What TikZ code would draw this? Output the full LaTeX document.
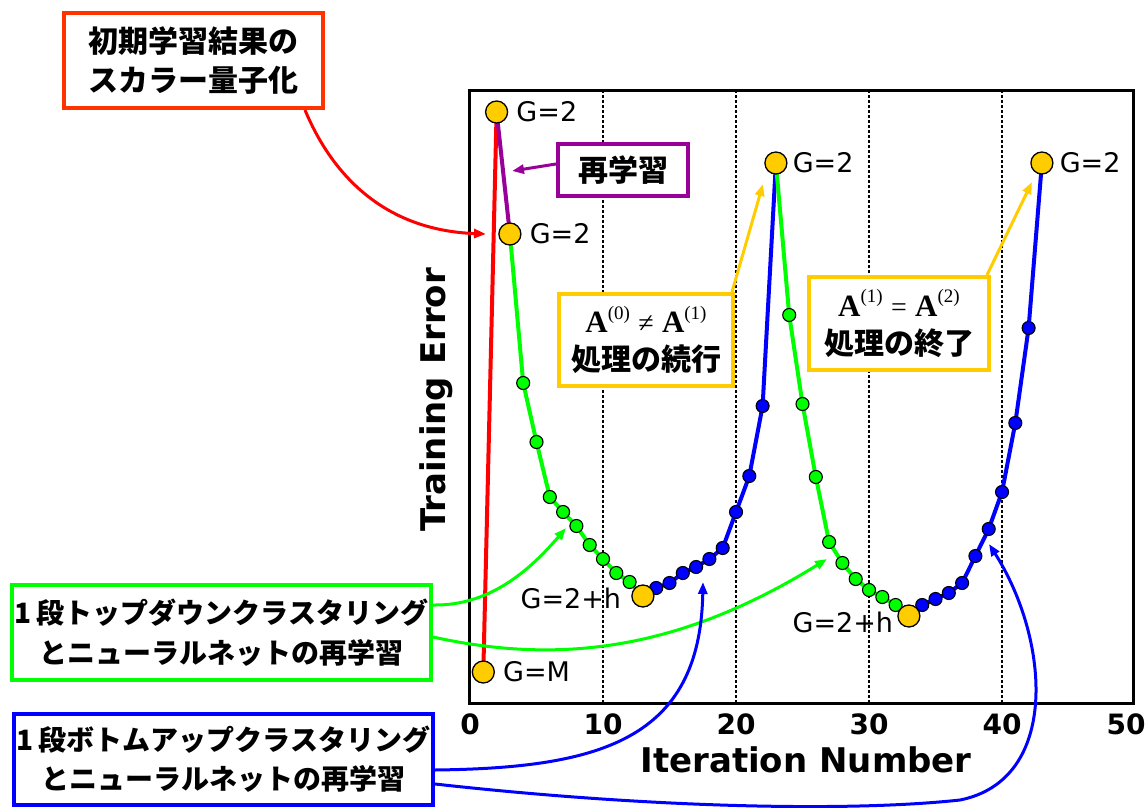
\documentclass[tikz,border=0pt]{standalone}
\usepackage{fontspec}
\setmainfont{DejaVu Sans}
\newfontfamily\jp{Noto Sans CJK JP}
\newfontfamily\tms{Liberation Serif}
\usetikzlibrary{arrows.meta}
\definecolor{cred}{RGB}{255,0,0}
\definecolor{corange}{RGB}{255,51,0}
\definecolor{cgreen}{RGB}{0,255,0}
\definecolor{cblue}{RGB}{0,0,255}
\definecolor{cpurple}{RGB}{153,0,153}
\definecolor{cyellow}{RGB}{255,204,0}
\newcommand{\matA}[1]{{\tms\bfseries\fontsize{31}{32}\selectfont A}\raisebox{0.45em}{\tms\mdseries\fontsize{19}{20}\selectfont(#1)}}
\newcommand{\relsym}[1]{\;{\tms\mdseries\fontsize{28}{30}\selectfont #1}\;}
\tikzset{
  ln/.style={line width=4pt, line join=round},
  smalldot/.style={circle, draw=black, line width=1.1pt, minimum size=13pt, inner sep=0pt},
  ydot/.style={circle, draw=black, line width=1.3pt, fill=cyellow, minimum size=22pt, inner sep=0pt},
  lbl/.style={font=\fontsize{27}{30}\selectfont, inner sep=0pt},
  tick/.style={font=\bfseries\fontsize{28}{32}\selectfont, inner sep=0pt},
  jbox/.style={draw, line width=4pt, fill=white, inner sep=0pt, align=center, font=\jp\bfseries\fontsize{30}{38}\selectfont},
  arr/.style={line width=3pt, -{Triangle[length=12pt,width=9pt]}},
  vgrid/.style={line width=1.3pt, dash pattern=on 3pt off 2pt}
}
\begin{document}
\begin{tikzpicture}[x=1pt,y=-1pt]
\useasboundingbox (0,0) rectangle (1148,808);
% grid and frame
\foreach \t in {10,20,30,40} \draw[vgrid] ({470+13.3*\t},90) -- ({470+13.3*\t},703);
\draw[line width=3pt] (469,90) rectangle (1133,703);
\foreach \t in {0,10,20,30,40} \node[tick] (tk\t) at ({470+13.3*\t},724) {\t};
\node[tick] (tk50) at (1126,724) {50};
\node[font=\bfseries\fontsize{34}{36}\selectfont, inner sep=0pt] (xl) at (806,760) {Iteration Number};
\node[font=\bfseries\fontsize{34}{36}\selectfont, inner sep=0pt, rotate=90] (yl) at (436,400) {Training Error};
% data
\def\pts{1/672, 2/112, 3/234, 4/383, 5/442, 6/497, 7/512, 8/526, 9/545, 10/559, 11/573, 12/582, 13/596, 14/588, 15/583, 16/573, 17/567, 18/559, 19/548, 20/512, 21/476, 22/406, 23/163, 24/315, 25/404, 26/477, 27/542, 28/563, 29/579, 30/590, 31/597, 32/605, 33/616, 34/605, 35/599, 36/593, 37/583, 38/556, 39/529, 40/492, 41/423, 42/328, 43/163}
\foreach \t/\y in \pts \coordinate (c\t) at ({470+13.3*\t},\y);
\draw[ln,cred] (c1) -- (c2);
\draw[ln,cpurple] (c2) -- (c3);
\draw[ln,cgreen] (c3) \foreach \i in {4,...,13}{ -- (c\i)};
\draw[ln,cblue] (c13) \foreach \i in {14,...,23}{ -- (c\i)};
\draw[ln,cgreen] (c23) \foreach \i in {24,...,33}{ -- (c\i)};
\draw[ln,cblue] (c33) \foreach \i in {34,...,43}{ -- (c\i)};
\foreach \t in {4,...,12,24,25,...,32} \node[smalldot, fill=cgreen] (p\t) at (c\t) {};
\foreach \t in {14,...,22,34,35,...,42} \node[smalldot, fill=cblue] (p\t) at (c\t) {};
\foreach \t in {1,2,3,13,23,33,43} \node[ydot] (p\t) at (c\t) {};
% point labels
\node[lbl, anchor=west] (l2) at ([xshift=8pt]p2.east) {G=2};
\node[lbl, anchor=west] (l3) at ([xshift=8pt]p3.east) {G=2};
\node[lbl, anchor=west] (l23) at ([xshift=5pt]p23.east) {G=2};
\node[lbl, anchor=west] (l43) at ([xshift=6pt]p43.east) {G=2};
\node[lbl, anchor=west] (l1) at ([xshift=8pt]p1.east) {G=M};
\node[lbl, anchor=east] (l13) at ([xshift=-10pt,yshift=-2pt]p13.west) {G=2+h};
\node[lbl, anchor=east] (l33) at ([xshift=-4pt,yshift=-6pt]p33.west) {G=2+h};
% callout boxes
\node[jbox, draw=corange, minimum width=259pt, minimum height=95pt, font=\jp\bfseries\fontsize{30}{39}\selectfont] (rbox) at (193.5,60.5) {初期学習結果の\\スカラー量子化};
\node[jbox, draw=cpurple, minimum width=130pt, minimum height=52pt] (pbox) at (623,170) {再学習};
\node[jbox, draw=cyellow, minimum width=174pt, minimum height=92pt] (y1box) at (646,340) {\matA{0}\relsym{≠}\matA{1}\\処理の続行};
\node[jbox, draw=cyellow, minimum width=180pt, minimum height=93pt] (y2box) at (899,323.5) {\matA{1}\relsym{=}\matA{2}\\処理の終了};
\node[jbox, draw=cgreen, minimum width=419pt, minimum height=95pt, font=\jp\bfseries\fontsize{28}{40}\selectfont] (gbox) at (221.5,632.5) {1\,段トップダウンクラスタリング\\とニューラルネットの再学習};
\node[jbox, draw=cblue, minimum width=419pt, minimum height=91pt, font=\jp\bfseries\fontsize{28}{39}\selectfont] (bbox) at (223.5,759.5) {1\,段ボトムアップクラスタリング\\とニューラルネットの再学習};
% arrow targets
\coordinate (rtip) at (486,234);
\coordinate (ptip) at (512,171);
\coordinate (y1tip) at (763,184);
\coordinate (y2tip) at (1032,182);
\coordinate (g1tip) at (566,528);
\coordinate (g2tip) at (827,559);
\coordinate (b1tip) at (703,582);
\coordinate (b2tip) at (989,544);
% connectors
\draw[arr, cred] ([xshift=-20pt]rbox.south east) .. controls (330,170) and (380,230) .. (rtip);
\draw[arr, cpurple] ([yshift=6pt]pbox.west) -- (ptip);
\draw[arr, cyellow] ([xshift=-3pt]y1box.north east) -- (y1tip);
\draw[arr, cyellow] ([xshift=-4pt]y2box.north east) -- (y2tip);
\draw[arr, cgreen] ([yshift=27.5pt]gbox.east) .. controls (490,606) and (530,570) .. (g1tip);
\draw[arr, cgreen] ([yshift=-4.5pt]gbox.east) .. controls (560,665) and (680,650) .. (g2tip);
\draw[arr, cblue] ([yshift=-10.5pt]bbox.east) .. controls (600,768) and (700,740) .. (b1tip);
\draw[arr, cblue] ([yshift=-24.5pt]bbox.east) .. controls (650,808) and (850,812) .. (960,800) .. controls (1060,780) and (1050,640) .. (b2tip);
\end{tikzpicture}
\end{document}
